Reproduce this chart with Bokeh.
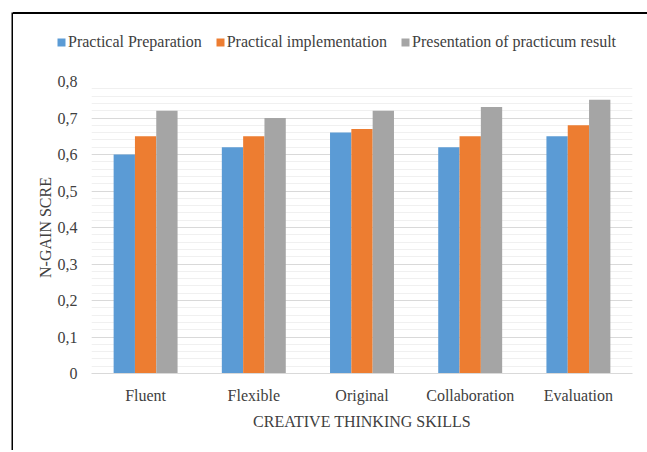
from bokeh.plotting import figure
from bokeh.layouts import row, column
from bokeh.models import (ColumnDataSource, FactorRange, Range1d, SingleIntervalTicker,
                          CustomJSTickFormatter, Legend, LegendItem, Spacer, Div)
from bokeh.transform import dodge
from bokeh.embed import file_html
from bokeh.resources import INLINE

categories = ["Fluent", "Flexible", "Original", "Collaboration", "Evaluation"]
series_names = ["Practical Preparation", "Practical implementation", "Presentation of practicum result"]
prep = [0.60, 0.62, 0.66, 0.62, 0.65]
impl = [0.65, 0.65, 0.67, 0.65, 0.68]
pres = [0.72, 0.70, 0.72, 0.73, 0.75]
colors = ["#5b9bd5", "#ed7d31", "#a5a5a5"]

FONT = "Liberation Serif"
TXT = "#404040"

source = ColumnDataSource(dict(cat=categories, prep=prep, impl=impl, pres=pres))
series_cols = ["prep", "impl", "pres"]

# main chart
p = figure(width=632, height=388, title=None, x_range=FactorRange(*categories, range_padding=0),
           y_range=Range1d(0, 0.8), output_backend="svg", toolbar_location=None,
           min_border_left=78, min_border_right=13, min_border_top=21, min_border_bottom=75)
p.outline_line_color = None

bw = 0.197
offsets = [-bw, 0.0, bw]
for col, off, c in zip(series_cols, offsets, colors):
    p.vbar(x=dodge("cat", off, range=p.x_range), top=col, width=bw, source=source,
           fill_color=c, line_color=None)

ticker = SingleIntervalTicker(interval=0.1, num_minor_ticks=5)
p.yaxis.ticker = ticker
p.ygrid.ticker = ticker
p.ygrid.grid_line_color = "#d9d9d9"
p.ygrid.minor_grid_line_color = "#f0f0f0"
p.xgrid.grid_line_color = None

p.yaxis.formatter = CustomJSTickFormatter(
    code="return Math.abs(tick) < 1e-9 ? '0' : tick.toFixed(1).replace('.', ',');")
p.yaxis.axis_line_color = None
p.yaxis.major_tick_line_color = None
p.yaxis.minor_tick_line_color = None
p.yaxis.major_label_standoff = 8
p.yaxis.axis_label = "N-GAIN SCRE"
p.yaxis.axis_label_standoff = 1

p.xaxis.axis_line_color = "#d9d9d9"
p.xaxis.major_tick_line_color = None
p.xaxis.minor_tick_line_color = None
p.xaxis.major_label_standoff = 7
p.xaxis.axis_label = "CREATIVE THINKING SKILLS"
p.xaxis.axis_label_standoff = 6

for ax in (p.xaxis[0], p.yaxis[0]):
    ax.major_label_text_font = FONT
    ax.major_label_text_font_size = "16px"
    ax.major_label_text_color = TXT
    ax.axis_label_text_font = FONT
    ax.axis_label_text_font_size = "16px"
    ax.axis_label_text_font_style = "normal"
    ax.axis_label_text_color = TXT

# legend strip (own canvas so the legend is not clipped by the plot frame)
lf = figure(width=632, height=46, title=None, x_range=FactorRange(*categories),
            y_range=Range1d(0, 1), x_axis_type=None, y_axis_type=None,
            output_backend="svg", toolbar_location=None, min_border=0)
lf.outline_line_color = None
items = []
for name, col, c in zip(series_names, series_cols, colors):
    r = lf.vbar(x="cat", top=col, width=bw, source=source, fill_color=c, line_color=None,
                visible=False)
    items.append(LegendItem(label=name, renderers=[r]))
legend = Legend(items=items, orientation="horizontal", location=(43, 9),
                glyph_width=10, glyph_height=10, label_standoff=2, spacing=13,
                padding=0, margin=0, border_line_color=None, background_fill_color=None,
                inactive_fill_alpha=0.0,
                label_text_font=FONT, label_text_font_size="16px", label_text_color=TXT)
lf.add_layout(legend, "center")

left_line = figure(width=2, height=438, title=None, toolbar_location=None, output_backend="svg",
                   min_border=0, x_axis_type=None, y_axis_type=None)
left_line.background_fill_color = "black"
left_line.border_fill_color = "black"
left_line.outline_line_color = None

top_line = Div(text="", width=634, height=2, margin=0,
               styles={"background-color": "black"})

layout = column(Spacer(width=645, height=12),
                row(Spacer(width=11, height=438), left_line,
                    column(top_line, row(lf, spacing=0), p, spacing=0), spacing=0),
                spacing=0)

open("out.html", "w").write(file_html(layout, INLINE))
